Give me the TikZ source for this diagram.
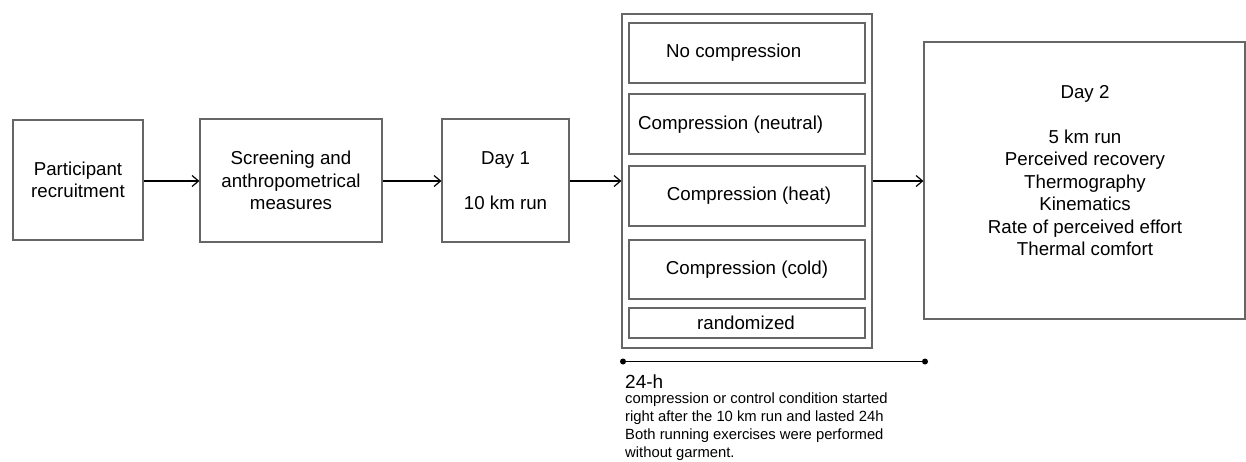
\documentclass[tikz,border=0pt]{standalone}
\usepackage{fontspec}
\setmainfont{Liberation Sans}
\usetikzlibrary{arrows.meta}
\definecolor{boxgray}{HTML}{666666}
\begin{document}
\begin{tikzpicture}[x=1pt,y=-1pt,
  boxstyle/.style={draw=boxgray,line width=1.1pt,inner sep=0pt,align=center,
    font=\fontsize{18.7}{22.5}\selectfont},
  flow/.style={line width=1.2pt,-{Straight Barb[length=6.5pt,width=11pt,line width=1.2pt]}},
  txt/.style={inner sep=0pt,font=\fontsize{18.7}{22.5}\selectfont,align=center},
  dotend/.style={circle,fill=black,inner sep=0pt,minimum size=6pt}]
\useasboundingbox (0,0) rectangle (1246,461);
% main flow boxes
\node[boxstyle,minimum width=130pt,minimum height=120pt] (recr) at (78,180) {Participant\\recruitment};
\node[boxstyle,minimum width=182pt,minimum height=123pt] (screen) at (291,180.5) {Screening and\\anthropometrical\\measures};
\node[boxstyle,minimum width=127pt,minimum height=123pt] (day1) at (505.5,180.5) {Day 1\\[22.5pt]10 km run};
\node[boxstyle,minimum width=250pt,minimum height=334pt] (outer) at (747,181) {};
\node[boxstyle,minimum width=236pt,minimum height=60pt] (nocomp) at (747,53) {};
\node[boxstyle,minimum width=236pt,minimum height=60pt] (neutral) at (747,124) {};
\node[boxstyle,minimum width=236pt,minimum height=60pt] (heat) at (747,196) {};
\node[boxstyle,minimum width=236pt,minimum height=59pt] (cold) at (747,269.5) {};
\node[boxstyle,minimum width=236pt,minimum height=30pt] (rand) at (747,323) {};
\node[txt,anchor=west] (nocomptxt) at (666,53) {No compression};
\node[txt,anchor=west] (neutraltxt) at (638,125) {Compression (neutral)};
\node[txt] (heattxt) at (749,196) {Compression (heat)};
\node[txt] (coldtxt) at (747,270) {Compression (cold)};
\node[txt] (randtxt) at (746,323) {randomized};
\node[boxstyle,minimum width=321pt,minimum height=277pt] (day2) at (1084.5,180.5) {};
\node[txt] (day2txt) at (1085,170.5) {Day 2\\[22.5pt]5 km run\\Perceived recovery\\Thermography\\Kinematics\\Rate of perceived effort\\Thermal comfort};
% arrows
\draw[flow] (recr.east |- 0,181) -- (screen.west |- 0,181);
\draw[flow] (screen.east |- 0,181) -- (day1.west |- 0,181);
\draw[flow] (day1.east |- 0,181) -- (outer.west |- 0,181);
\draw[flow] (outer.east |- 0,181) -- (day2.west |- 0,181);
% timeline
\node[dotend] (tstart) at (623,361.5) {};
\node[dotend] (tend) at (925,361.5) {};
\draw[line width=1.5pt] (tstart.center) -- (tend.center);
\node[anchor=west,inner sep=0pt,font=\fontsize{19}{22}\selectfont] (hours) at (625,382) {24-h};
\node[anchor=north west,inner sep=0pt,align=left,font=\fontsize{14.8}{18}\selectfont] (note) at (625,393) {compression or control condition started\\right after the 10 km run and lasted 24h\\Both running exercises were performed\\without garment.};
\end{tikzpicture}
\end{document}
